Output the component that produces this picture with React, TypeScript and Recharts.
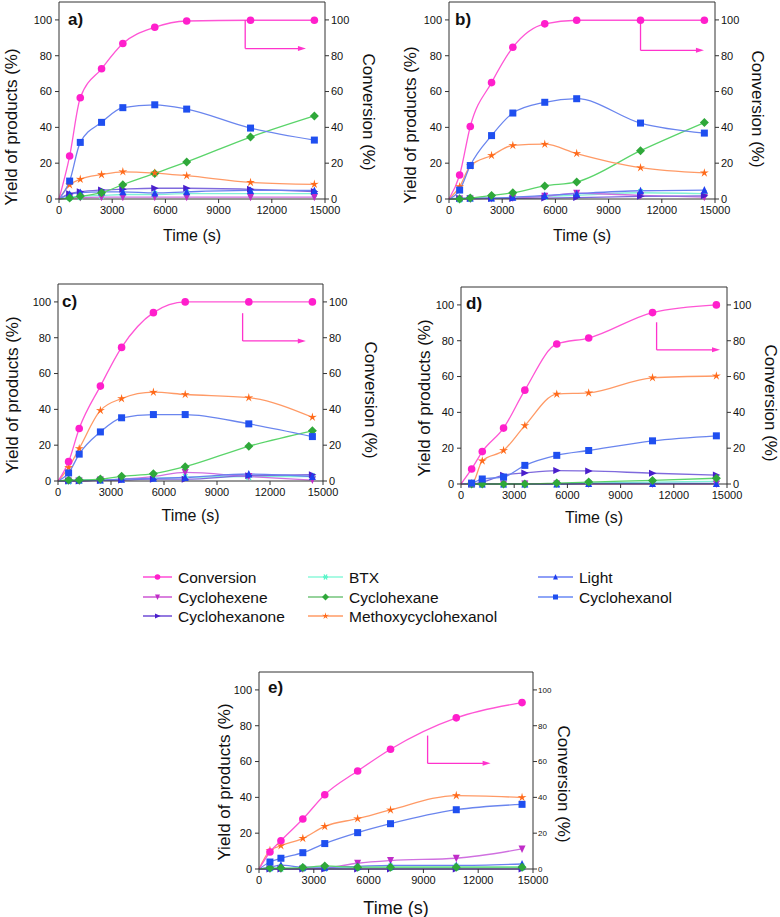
import React from 'react';
import { LineChart, Line, XAxis, YAxis, ReferenceLine, ReferenceDot } from 'recharts';

// sampling times (s)
const time = [0, 600, 1200, 2400, 3600, 5400, 7200, 10800, 14400];
const xTicks = [0, 3000, 6000, 9000, 12000, 15000];
const yTicks = [0, 20, 40, 60, 80, 100];

// panel a
const conversionA = [0, 24, 56.5, 72.7, 86.8, 95.9, 99.4, 99.8, 99.8];
const cyclohexanolA = [0, 10, 31.6, 42.8, 51, 52.6, 50.2, 39.6, 32.9];
const methoxyA = [0, 7.8, 11, 13.6, 15.2, 14.5, 13, 9.3, 8.2];
const cyclohexaneA = [0, 0.5, 1.5, 3.5, 8, 14.3, 20.7, 34.6, 46.4];
const cyclohexanoneA = [0, 3, 4, 5, 5.5, 6, 6, 5.4, 4.2];
const lightA = [0, 2.6, 3.6, 4, 4, 3.4, 4, 4.8, 4.8];
const btxA = [0, 1, 1.5, 2, 2.5, 2.5, 3, 3, 3];
const cyclohexeneA = [0, 0.5, 0.8, 1, 1, 1, 1, 1, 1];

// panel b
const conversionB = [0, 13.4, 40.5, 65, 84.7, 97.8, 99.8, 99.8, 99.8];
const cyclohexanolB = [0, 5, 18.7, 35.4, 48, 54, 56, 42.4, 36.8];
const methoxyB = [0, 6.9, 18.5, 24.3, 29.9, 30.6, 25.4, 17.5, 14.6];
const cyclohexaneB = [0, 0, 0.5, 2, 3.5, 7.3, 9.5, 27, 42.7];
const cyclohexanoneB = [0, 0.3, 0.3, 0.3, 0.3, 0.5, 0.8, 1.5, 1.8];
const lightB = [0, 0.5, 0.5, 0.5, 1, 2, 3, 4.6, 5];
const btxB = [0, 0, 0.3, 0.5, 1, 1.5, 2, 3.5, 3];
const cyclohexeneB = [0, 0, 0, 0.3, 0.5, 1.5, 3.2, 2, 1];

// panel c
const conversionC = [0, 10.8, 29.3, 53, 74.6, 94, 100, 100, 100];
const cyclohexanolC = [0, 4.5, 15, 27.4, 35.3, 37.1, 37.1, 31.9, 24.8];
const methoxyC = [0, 7.5, 18.1, 39.4, 46, 49.6, 48.3, 46.5, 35.6];
const cyclohexaneC = [0, 0.5, 0.5, 1.1, 2.6, 4.1, 8, 19.4, 28];
const cyclohexanoneC = [0, 0, 0, 0.3, 0.5, 1, 1, 3, 3.5];
const lightC = [0, 0.5, 0.5, 0.5, 1, 1.5, 2, 3.9, 2.5];
const btxC = [0, 0, 0.3, 0.5, 1, 1.5, 2, 2.5, 2.5];
const cyclohexeneC = [0, 0, 0, 0.5, 1, 2.5, 4.8, 2.5, 0.5];

// panel d
const conversionD = [0, 8.4, 18.1, 31.2, 52.4, 78.2, 81.5, 95.7, 100];
const cyclohexanolD = [0, 0.5, 2.8, 3.9, 10.4, 16, 18.7, 24.1, 26.9];
const methoxyD = [0, 0, 12.9, 18.7, 32.6, 50.2, 50.9, 59.3, 60.3];
const cyclohexaneD = [0, 0, 0, 0, 0, 0.5, 1.1, 2, 3.2];
const cyclohexanoneD = [0, 0, 1, 4.9, 6.2, 7.5, 7.3, 6, 5];
const lightD = [0, 0, 0, 0, 0, 0, 0.3, 0.3, 0.3];
const btxD = [0, 0, 0, 0, 0, 0, 0.5, 1, 1.5];
const cyclohexeneD = [0, 0, 0, 0, 0, 0, 0, 0, 0];

// panel e
const conversionE = [0, 9.5, 15.8, 27.9, 41.5, 54.7, 66.9, 84.4, 92.9];
const cyclohexanolE = [0, 3.9, 6, 9.1, 14.2, 20.3, 25.3, 33.1, 36.1];
const methoxyE = [0, 10.4, 13, 17.1, 23.8, 28.1, 33, 41, 39.9];
const cyclohexaneE = [0, 0.5, 0.5, 0.8, 1.7, 1, 1, 1, 1];
const cyclohexanoneE = [0, 0, 0, 0, 0, 0, 0, 0, 0];
const lightE = [0, 1, 2.2, 1, 1, 1.5, 2, 2, 2.8];
const btxE = [0, 0.5, 0.5, 0.5, 0.5, 1, 1, 1, 1];
const cyclohexeneE = [0, 0, 0, 0, 0.5, 3.2, 4.7, 6, 11.2];

const SERIES = [
  { key: 'btx', name: 'BTX', color: '#55F5C8', line: '#80F2D6', shape: 'asterisk' },
  { key: 'cyclohexene', name: 'Cyclohexene', color: '#C02CC8', line: '#D070E0', shape: 'down' },
  { key: 'cyclohexanone', name: 'Cyclohexanone', color: '#4A1FCC', line: '#7F6ADD', shape: 'right' },
  { key: 'light', name: 'Light', color: '#1F3FF0', line: '#6A80F0', shape: 'up' },
  { key: 'cyclohexane', name: 'Cyclohexane', color: '#2FA83A', line: '#5AD46A', shape: 'diamond' },
  { key: 'methoxy', name: 'Methoxycyclohexanol', color: '#FF6A1A', line: '#FF9A66', shape: 'star' },
  { key: 'cyclohexanol', name: 'Cyclohexanol', color: '#1F4FF0', line: '#6A85EE', shape: 'square' },
  { key: 'conversion', name: 'Conversion', color: '#FF1FCC', line: '#FF55D5', shape: 'circle' },
];

const rows = (cols: Record<string, number[]>) =>
  time.map((t, i) => {
    const r: any = { t };
    Object.keys(cols).forEach(k => (r[k] = cols[k][i]));
    return r;
  });

const dataA = rows({ conversion: conversionA, cyclohexanol: cyclohexanolA, methoxy: methoxyA, cyclohexane: cyclohexaneA, cyclohexanone: cyclohexanoneA, light: lightA, btx: btxA, cyclohexene: cyclohexeneA });
const dataB = rows({ conversion: conversionB, cyclohexanol: cyclohexanolB, methoxy: methoxyB, cyclohexane: cyclohexaneB, cyclohexanone: cyclohexanoneB, light: lightB, btx: btxB, cyclohexene: cyclohexeneB });
const dataC = rows({ conversion: conversionC, cyclohexanol: cyclohexanolC, methoxy: methoxyC, cyclohexane: cyclohexaneC, cyclohexanone: cyclohexanoneC, light: lightC, btx: btxC, cyclohexene: cyclohexeneC });
const dataD = rows({ conversion: conversionD, cyclohexanol: cyclohexanolD, methoxy: methoxyD, cyclohexane: cyclohexaneD, cyclohexanone: cyclohexanoneD, light: lightD, btx: btxD, cyclohexene: cyclohexeneD });
const dataE = rows({ conversion: conversionE, cyclohexanol: cyclohexanolE, methoxy: methoxyE, cyclohexane: cyclohexaneE, cyclohexanone: cyclohexanoneE, light: lightE, btx: btxE, cyclohexene: cyclohexeneE });

const Marker = ({ cx, cy, shape, color, s = 7 }: any) => {
  const h = s / 2;
  switch (shape) {
    case 'circle':
      return <circle cx={cx} cy={cy} r={h + 0.3} fill={color} />;
    case 'square':
      return <rect x={cx - h} y={cy - h} width={s} height={s} fill={color} />;
    case 'up':
      return <polygon points={`${cx},${cy - h - 0.5} ${cx + h},${cy + h} ${cx - h},${cy + h}`} fill={color} />;
    case 'down':
      return <polygon points={`${cx - h},${cy - h} ${cx + h},${cy - h} ${cx},${cy + h + 0.5}`} fill={color} />;
    case 'right':
      return <polygon points={`${cx - h},${cy - h} ${cx + h + 0.5},${cy} ${cx - h},${cy + h}`} fill={color} />;
    case 'diamond':
      return <polygon points={`${cx},${cy - h - 1} ${cx + h + 1},${cy} ${cx},${cy + h + 1} ${cx - h - 1},${cy}`} fill={color} />;
    case 'star': {
      const pts: string[] = [];
      for (let i = 0; i < 10; i++) {
        const r = i % 2 === 0 ? h + 1.2 : h * 0.45;
        const a = -Math.PI / 2 + (i * Math.PI) / 5;
        pts.push(`${cx + r * Math.cos(a)},${cy + r * Math.sin(a)}`);
      }
      return <polygon points={pts.join(' ')} fill={color} />;
    }
    case 'asterisk':
      return (
        <g stroke={color} strokeWidth={1.4}>
          <line x1={cx - h} y1={cy} x2={cx + h} y2={cy} />
          <line x1={cx - h * 0.6} y1={cy - h} x2={cx + h * 0.6} y2={cy + h} />
          <line x1={cx + h * 0.6} y1={cy - h} x2={cx - h * 0.6} y2={cy + h} />
        </g>
      );
    default:
      return null;
  }
};

const textColor = '#111';

const Panel = ({ p }: any) => {
  const plotW = p.width - p.leftW - p.rightW;
  return (
    <>
      <div style={{ position: 'absolute', left: p.left, top: p.top }}>
        <LineChart
          width={p.width}
          height={p.height}
          data={p.data}
          margin={{ top: p.mt, right: 0, left: 0, bottom: p.mb }}
        >
          <XAxis
            dataKey="t"
            type="number"
            domain={[0, 15000]}
            ticks={xTicks}
            height={30}
            interval={0}
            tickSize={4}
            tickMargin={3}
            axisLine={{ stroke: '#333' }}
            tickLine={{ stroke: '#333' }}
            tick={{ fontSize: 11, fill: textColor }}
          />
          <YAxis
            yAxisId="left"
            domain={[0, 110]}
            ticks={yTicks}
            width={p.leftW}
            tickSize={4}
            tickMargin={3}
            axisLine={{ stroke: '#333' }}
            tickLine={{ stroke: '#333' }}
            tick={{ fontSize: 11, fill: textColor }}
          />
          <YAxis
            yAxisId="right"
            orientation="right"
            domain={[0, 110]}
            ticks={yTicks}
            width={p.rightW}
            tickSize={4}
            tickMargin={p.smallRight ? 1 : 2}
            axisLine={{ stroke: '#333' }}
            tickLine={{ stroke: '#333' }}
            tick={{ fontSize: p.smallRight ? 8 : 11, fill: textColor }}
          />
          <ReferenceLine yAxisId="left" y={110} stroke="#333" />
          {SERIES.map(s => (
            <Line
              key={s.key}
              yAxisId={s.key === 'conversion' ? 'right' : 'left'}
              dataKey={s.key}
              type="monotone"
              stroke={s.line}
              strokeWidth={1.3}
              isAnimationActive={false}
              activeDot={false}
              dot={(d: any) =>
                d.index === 0 ? (
                  <g key={`${s.key}-${d.index}`} />
                ) : (
                  <g key={`${s.key}-${d.index}`}>
                    <Marker cx={d.cx} cy={d.cy} shape={s.shape} color={s.color} />
                  </g>
                )
              }
            />
          ))}
          <ReferenceLine
            yAxisId="right"
            segment={[{ x: p.arrow.x, y: p.arrow.y1 }, { x: p.arrow.x, y: p.arrow.y2 }]}
            stroke="#FF33CC"
            strokeWidth={1.3}
          />
          <ReferenceLine
            yAxisId="right"
            segment={[{ x: p.arrow.x, y: p.arrow.y2 }, { x: p.arrow.x2, y: p.arrow.y2 }]}
            stroke="#FF33CC"
            strokeWidth={1.3}
          />
          <ReferenceDot
            yAxisId="right"
            x={p.arrow.x2}
            y={p.arrow.y2}
            shape={(d: any) => (
              <polygon
                points={`${d.cx + 4},${d.cy} ${d.cx - 4},${d.cy - 2.5} ${d.cx - 4},${d.cy + 2.5}`}
                fill="#FF33CC"
              />
            )}
          />
        </LineChart>
      </div>
      <div
        style={{
          position: 'absolute',
          left: p.tag.x,
          top: p.tag.y,
          transform: 'translateY(-50%)',
          fontWeight: 'bold',
          fontSize: 17,
          color: textColor,
        }}
      >
        {p.tagText}
      </div>
      <div
        style={{
          position: 'absolute',
          left: p.yl.x,
          top: p.yl.y,
          transform: 'translate(-50%, -50%) rotate(-90deg)',
          whiteSpace: 'nowrap',
          fontSize: 17,
          color: textColor,
        }}
      >
        Yield of products (%)
      </div>
      <div
        style={{
          position: 'absolute',
          left: p.cl.x,
          top: p.cl.y,
          transform: 'translate(-50%, -50%) rotate(90deg)',
          whiteSpace: 'nowrap',
          fontSize: 17,
          color: textColor,
        }}
      >
        Conversion (%)
      </div>
      <div
        style={{
          position: 'absolute',
          left: p.left + p.leftW + plotW / 2,
          top: p.tl.y,
          transform: 'translate(-50%, -50%)',
          whiteSpace: 'nowrap',
          fontSize: p.tl.size,
          color: textColor,
        }}
      >
        Time (s)
      </div>
    </>
  );
};

const PANELS = [
  {
    tagText: 'a)', data: dataA, left: 0, top: 0, width: 390, height: 250, mt: 2, mb: 21, leftW: 59, rightW: 65,
    arrow: { x: 10500, y1: 100, y2: 84, x2: 13700 },
    tag: { x: 68, y: 20 }, yl: { x: 12, y: 127 }, cl: { x: 368, y: 112 }, tl: { y: 236, size: 16 },
  },
  {
    tagText: 'b)', data: dataB, left: 390, top: 0, width: 390, height: 250, mt: 2, mb: 21, leftW: 59, rightW: 65,
    arrow: { x: 10800, y1: 100, y2: 83, x2: 14150 },
    tag: { x: 455, y: 20 }, yl: { x: 411, y: 125 }, cl: { x: 757, y: 109 }, tl: { y: 236, size: 16 },
  },
  {
    tagText: 'c)', data: dataC, left: 0, top: 260, width: 390, height: 260, mt: 24, mb: 9, leftW: 58, rightW: 67,
    arrow: { x: 10450, y1: 93.7, y2: 78.2, x2: 13800 },
    tag: { x: 62, y: 302 }, yl: { x: 13, y: 395 }, cl: { x: 370, y: 400 }, tl: { y: 516, size: 16 },
  },
  {
    tagText: 'd)', data: dataD, left: 390, top: 260, width: 390, height: 260, mt: 27, mb: 6, leftW: 71, rightW: 53,
    arrow: { x: 11030, y1: 90.3, y2: 74.9, x2: 14380 },
    tag: { x: 466, y: 304 }, yl: { x: 425, y: 398 }, cl: { x: 770, y: 403 }, tl: { y: 518, size: 16 },
  },
  {
    tagText: 'e)', data: dataE, left: 200, top: 660, width: 380, height: 257, mt: 12, mb: 18, leftW: 59, rightW: 47,
    smallRight: true,
    arrow: { x: 9230, y1: 74.5, y2: 59, x2: 12460 },
    tag: { x: 268, y: 688 }, yl: { x: 225, y: 782 }, cl: { x: 563, y: 784 }, tl: { y: 908, size: 18 },
  },
];

const legendCols = [
  { lineX: 143, textX: 178, keys: ['conversion', 'cyclohexene', 'cyclohexanone'] },
  { lineX: 308, textX: 349, keys: ['btx', 'cyclohexane', 'methoxy'] },
  { lineX: 538, textX: 579, keys: ['light', 'cyclohexanol'] },
];
const legendRowsY = [577, 597, 616];

const Legend = () => (
  <svg style={{ position: 'absolute', left: 0, top: 0 }} width={780} height={917} pointerEvents="none">
    {legendCols.map(col =>
      col.keys.map((k, i) => {
        const s = SERIES.find(x => x.key === k)!;
        const y = legendRowsY[i];
        const x2 = col.textX - 6;
        return (
          <g key={k}>
            <line x1={col.lineX} y1={y} x2={x2} y2={y} stroke={s.color} strokeWidth={1.2} />
            <Marker cx={(col.lineX + x2) / 2} cy={y} shape={s.shape} color={s.color} s={5} />
            <text x={col.textX} y={y} dominantBaseline="central" fontSize={15.5} fill={textColor}>
              {s.name}
            </text>
          </g>
        );
      })
    )}
  </svg>
);

export default function App() {
  return (
    <div
      style={{
        position: 'absolute',
        left: 0,
        top: 0,
        width: 780,
        height: 917,
        background: '#fff',
        fontFamily: '"Liberation Sans", Arial, sans-serif',
        overflow: 'hidden',
      }}
    >
      {PANELS.map(p => (
        <Panel key={p.tagText} p={p} />
      ))}
      <Legend />
    </div>
  );
}
